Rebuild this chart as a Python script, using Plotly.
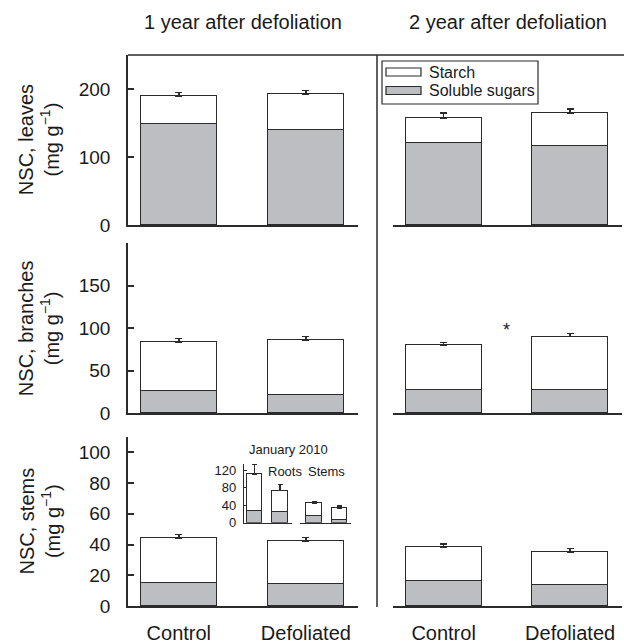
import plotly.graph_objects as go

W, H = 624, 644
groups = ["Control", "Defoliated"]
series_names = ["Starch", "Soluble sugars"]

# ---- data (mg g-1) ----
leaves_y1_sugar = [148, 140]
leaves_y1_starch = [42, 53]
leaves_y1_se = [5, 5]
leaves_y2_sugar = [121, 117]
leaves_y2_starch = [36, 48]
leaves_y2_se = [8, 6]

branches_y1_sugar = [26, 22]
branches_y1_starch = [58, 64]
branches_y1_se = [4, 4]
branches_y2_sugar = [27, 27]
branches_y2_starch = [53, 63]
branches_y2_se = [3, 4]

stems_y1_sugar = [15, 14.5]
stems_y1_starch = [29, 27.5]
stems_y1_se = [2.5, 2.5]
stems_y2_sugar = [16, 13.5]
stems_y2_starch = [22.5, 21.5]
stems_y2_se = [2, 2.5]

# inset: January 2010
jan_roots_sugar = [28, 24]
jan_roots_starch = [84, 50]
jan_roots_se = [23, 14]
jan_stems_sugar = [16, 6]
jan_stems_starch = [29, 27]
jan_stems_se = [4, 5]

row_names = ["leaves", "branches", "stems"]
col_titles = ["1 year after defoliation", "2 year after defoliation"]
y_ranges = [[0, 250], [0, 200], [0, 110]]
y_ticks = [[0, 100, 200], [0, 50, 100, 150], [0, 20, 40, 60, 80, 100]]
inset_ticks = [0, 40, 80, 120]

panels = [
    [(leaves_y1_sugar, leaves_y1_starch, leaves_y1_se), (leaves_y2_sugar, leaves_y2_starch, leaves_y2_se)],
    [(branches_y1_sugar, branches_y1_starch, branches_y1_se), (branches_y2_sugar, branches_y2_starch, branches_y2_se)],
    [(stems_y1_sugar, stems_y1_starch, stems_y1_se), (stems_y2_sugar, stems_y2_starch, stems_y2_se)],
]

GRAY = "#bdbec1"
LINE = "#2b2b2b"
TXT = "#1a1a1a"
FONT = "Liberation Sans, Arial, sans-serif"

def px_x(p):
    return p / W

def px_y(p):
    return 1 - p / H

x_doms = [[px_x(128), px_x(358)], [px_x(393), px_x(622)]]
y_pix = [(55, 225.3), (243, 413.3), (437, 606)]

fig = go.Figure()
layout = dict()

def add_bars(xa, ya, sugar, starch, se, width, cap=3.5, lw=1.5):
    fig.add_trace(go.Bar(
        x=groups, y=sugar, xaxis=xa, yaxis=ya, width=width,
        marker=dict(color=GRAY, line=dict(color=LINE, width=lw)),
        name=series_names[1], showlegend=False,
    ))
    fig.add_trace(go.Bar(
        x=groups, y=starch, xaxis=xa, yaxis=ya, width=width,
        marker=dict(color="white", line=dict(color=LINE, width=lw)),
        name=series_names[0], showlegend=False,
        error_y=dict(type="data", symmetric=False, array=se, arrayminus=[0] * len(se),
                     color=LINE, thickness=1.5, width=cap),
    ))

idx = 0
for r in range(3):
    for c in range(2):
        idx += 1
        xa = "x" if idx == 1 else f"x{idx}"
        ya = "y" if idx == 1 else f"y{idx}"
        sugar, starch, se = panels[r][c]
        add_bars(xa, ya, sugar, starch, se, 0.6)
        ytop, ybot = y_pix[r]
        layout[f"xaxis{'' if idx == 1 else idx}"] = dict(
            domain=x_doms[c], anchor=ya, type="category", categoryarray=groups,
            range=[-0.4, 1.41], showline=True, linecolor=LINE, linewidth=1.5,
            ticks="", showticklabels=(r == 2), showgrid=False, zeroline=False,
            tickfont=dict(size=20, color=TXT, family=FONT), ticklabelstandoff=8,
            automargin=False, fixedrange=True,
        )
        layout[f"yaxis{'' if idx == 1 else idx}"] = dict(
            domain=[px_y(ybot), px_y(ytop)], anchor=xa, range=y_ranges[r],
            tickvals=y_ticks[r], showline=(c == 0), linecolor=LINE, linewidth=1.5,
            ticks="inside" if c == 0 else "", ticklen=6, tickwidth=1.5, tickcolor=LINE,
            showticklabels=(c == 0), showgrid=False, zeroline=False,
            tickfont=dict(size=19, color=TXT, family=FONT), ticklabelstandoff=12,
            automargin=False, fixedrange=True,
        )

# inset axes (roots, stems) in bottom-left panel
inset_y = [px_y(522.7), px_y(464)]
add_bars("x7", "y7", jan_roots_sugar, jan_roots_starch, jan_roots_se, 0.6, cap=2.5, lw=1.2)
add_bars("x8", "y8", jan_stems_sugar, jan_stems_starch, jan_stems_se, 0.6, cap=2.5, lw=1.2)
for k, (dom, rng, showy) in zip((7, 8), (([px_x(244), px_x(292)], [-0.41, 1.46], True),
                                         ([px_x(300), px_x(351)], [-0.55, 1.45], False))):
    layout[f"xaxis{k}"] = dict(
        domain=dom, anchor=f"y{k}", type="category", categoryarray=groups, range=rng,
        showline=True, linecolor=LINE, linewidth=1.2, ticks="", showticklabels=False,
        showgrid=False, zeroline=False, automargin=False, fixedrange=True,
    )
    layout[f"yaxis{k}"] = dict(
        domain=inset_y, anchor=f"x{k}", range=[0, 135], tickvals=inset_ticks,
        showline=showy, linecolor=LINE, linewidth=1.2, ticks="inside" if showy else "",
        ticklen=3, tickwidth=1.2, tickcolor=LINE, showticklabels=showy,
        tickfont=dict(size=13, color=TXT, family=FONT), ticklabelstandoff=4,
        showgrid=False, zeroline=False, automargin=False, fixedrange=True,
    )

annotations = []
# column titles
for c, t in enumerate(col_titles):
    annotations.append(dict(text=t, xref="paper", yref="paper",
                            x=sum(x_doms[c]) / 2, y=px_y(22), xanchor="center", yanchor="middle",
                            showarrow=False, font=dict(size=20, color=TXT, family=FONT)))
# y titles
for r, name in enumerate(row_names):
    ytop, ybot = y_pix[r]
    annotations.append(dict(text=f"NSC, {name}<br>(mg g<sup>\u22121</sup>)", xref="paper", yref="paper",
                            x=px_x(39), y=px_y((ytop + ybot) / 2), xanchor="center", yanchor="middle",
                            textangle=-90, showarrow=False,
                            font=dict(size=20, color=TXT, family=FONT)))
# significance star
annotations.append(dict(text="*", xref="x4", yref="y4", x=0.5, y=98, showarrow=False,
                        xanchor="center", yanchor="middle", font=dict(size=18, color=TXT, family=FONT)))
# inset labels
annotations.append(dict(text="January 2010", xref="paper", yref="paper", x=px_x(288), y=px_y(449),
                        xanchor="center", yanchor="middle", showarrow=False,
                        font=dict(size=13, color=TXT, family=FONT)))
annotations.append(dict(text="Roots", xref="paper", yref="paper", x=px_x(266), y=px_y(471),
                        xanchor="left", yanchor="middle", showarrow=False,
                        font=dict(size=13, color=TXT, family=FONT)))
annotations.append(dict(text="Stems", xref="paper", yref="paper", x=px_x(306), y=px_y(471),
                        xanchor="left", yanchor="middle", showarrow=False,
                        font=dict(size=13, color=TXT, family=FONT)))

shapes = [
    dict(type="line", xref="paper", yref="paper", x0=px_x(128), x1=1, y0=px_y(55), y1=px_y(55),
         line=dict(color=LINE, width=1.5)),
    dict(type="line", xref="paper", yref="paper", x0=px_x(377), x1=px_x(377), y0=px_y(607), y1=px_y(55),
         line=dict(color=LINE, width=1.5)),
]

# legend (drawn as a framed key in the top-right panel)
shapes.append(dict(type="rect", xref="paper", yref="paper", x0=px_x(382), x1=px_x(538),
                   y0=px_y(104), y1=px_y(61), line=dict(color=LINE, width=1.2), fillcolor="white"))
legend_fills = ["white", GRAY]
legend_rows = [72, 90.5]
for name, fill, yc in zip(series_names, legend_fills, legend_rows):
    shapes.append(dict(type="rect", xref="paper", yref="paper", x0=px_x(386), x1=px_x(421),
                       y0=px_y(yc + 4), y1=px_y(yc - 4), line=dict(color=LINE, width=1.2),
                       fillcolor=fill))
    annotations.append(dict(text=name, xref="paper", yref="paper", x=px_x(427), y=px_y(yc),
                            xanchor="left", yanchor="middle", showarrow=False,
                            font=dict(size=16, color=TXT, family=FONT)))

fig.update_layout(
    width=W, height=H, autosize=False,
    margin=dict(l=0, r=0, t=0, b=0, pad=0),
    paper_bgcolor="white", plot_bgcolor="rgba(0,0,0,0)",
    barmode="stack", bargap=0,
    font=dict(family=FONT, color=TXT),
    showlegend=False,
    annotations=annotations, shapes=shapes,
    **layout,
)

fig.write_html("out.html")
